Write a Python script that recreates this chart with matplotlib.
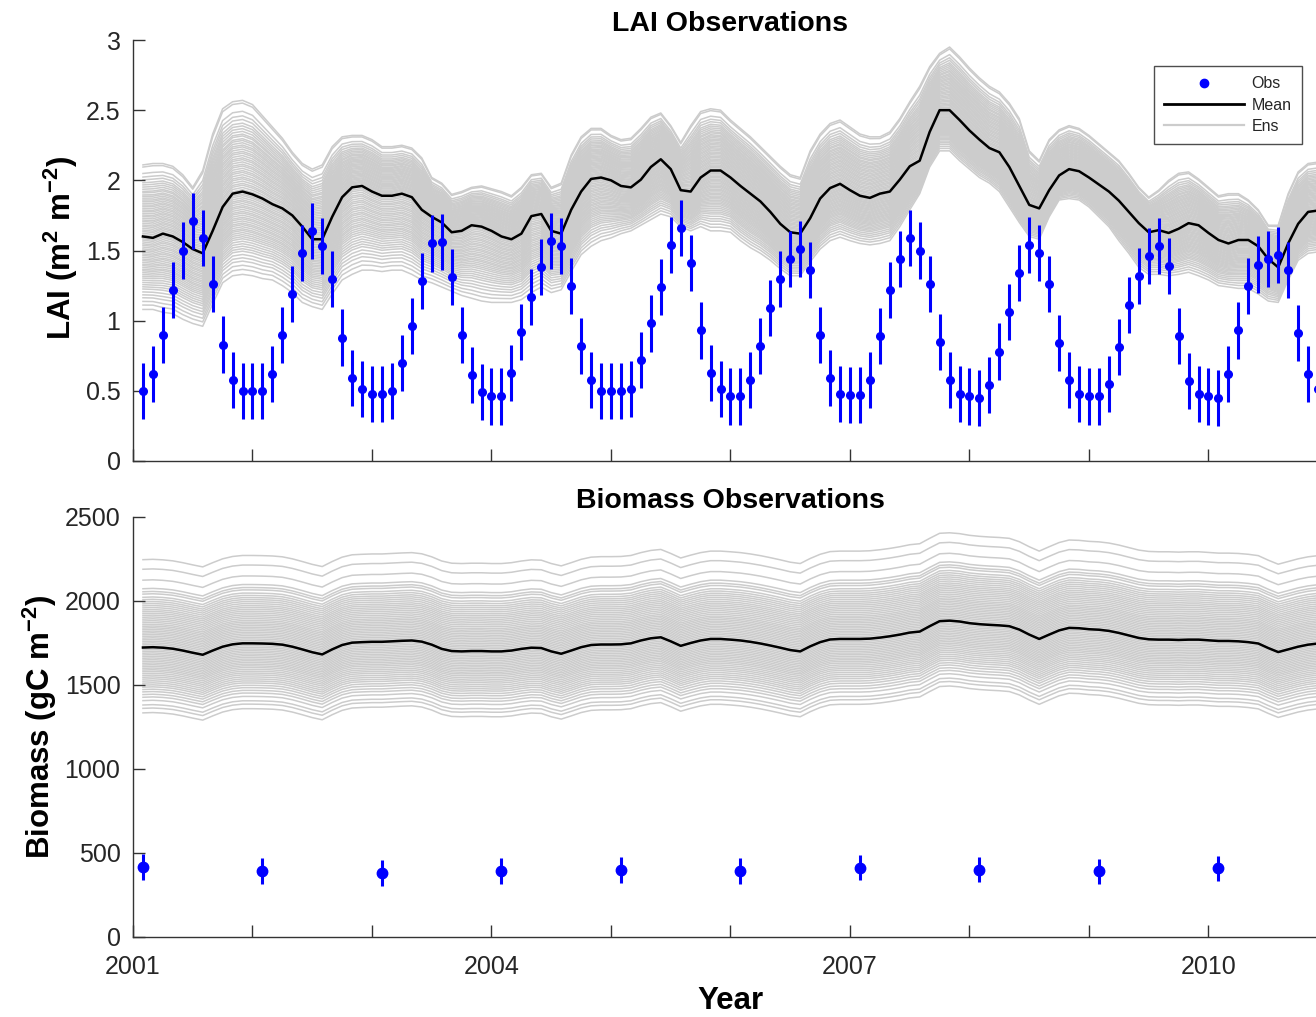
import numpy as np
import matplotlib
matplotlib.use("Agg")
import matplotlib.pyplot as plt
from matplotlib.lines import Line2D

plt.rcParams["font.family"] = ["Liberation Sans", "DejaVu Sans"]
plt.rcParams["mathtext.fontset"] = "custom"
plt.rcParams["mathtext.rm"] = "Liberation Sans:bold"
plt.rcParams["mathtext.default"] = "rm"

# ---------------------------------------------------------------- data
# monthly model/obs time steps: end of each month, Jan 2001 .. Dec 2010
month_index = np.arange(1, 121)
t_month = 2001 + month_index / 12.0

lai_obs = [
    0.50, 0.62, 0.90, 1.22, 1.50, 1.71, 1.59, 1.26, 0.83, 0.58, 0.50, 0.50,
    0.50, 0.62, 0.90, 1.19, 1.48, 1.64, 1.53, 1.30, 0.88, 0.59, 0.51, 0.48,
    0.48, 0.50, 0.70, 0.96, 1.28, 1.55, 1.56, 1.31, 0.90, 0.61, 0.49, 0.46,
    0.46, 0.63, 0.92, 1.17, 1.38, 1.57, 1.53, 1.25, 0.82, 0.58, 0.50, 0.50,
    0.50, 0.51, 0.72, 0.98, 1.24, 1.54, 1.66, 1.41, 0.93, 0.63, 0.51, 0.46,
    0.46, 0.58, 0.82, 1.09, 1.30, 1.44, 1.51, 1.36, 0.90, 0.59, 0.48, 0.47,
    0.47, 0.58, 0.89, 1.22, 1.44, 1.59, 1.50, 1.26, 0.85, 0.58, 0.48, 0.46,
    0.45, 0.54, 0.78, 1.06, 1.34, 1.54, 1.48, 1.26, 0.84, 0.58, 0.48, 0.46,
    0.46, 0.55, 0.81, 1.11, 1.32, 1.46, 1.53, 1.39, 0.89, 0.57, 0.48, 0.46,
    0.45, 0.62, 0.93, 1.25, 1.40, 1.44, 1.47, 1.36, 0.91, 0.62, 0.51, 0.48,
]
lai_obs_err = 0.2

lai_mean = [
    1.60, 1.59, 1.62, 1.60, 1.56, 1.51, 1.48, 1.64, 1.81, 1.905, 1.92, 1.90,
    1.87, 1.83, 1.80, 1.75, 1.67, 1.58, 1.58, 1.74, 1.88, 1.95, 1.96, 1.92,
    1.89, 1.89, 1.905, 1.88, 1.79, 1.74, 1.70, 1.63, 1.64, 1.68, 1.67, 1.64,
    1.60, 1.58, 1.62, 1.745, 1.76, 1.64, 1.62, 1.79, 1.92, 2.01, 2.02, 2.00,
    1.96, 1.95, 2.005, 2.095, 2.15, 2.08, 1.93, 1.92, 2.02, 2.07, 2.07, 2.02,
    1.96, 1.905, 1.85, 1.775, 1.69, 1.63, 1.62, 1.73, 1.87, 1.945, 1.975, 1.93,
    1.89, 1.875, 1.905, 1.92, 2.005, 2.10, 2.14, 2.345, 2.50, 2.50, 2.43, 2.355,
    2.29, 2.23, 2.20, 2.095, 1.96, 1.825, 1.80, 1.93, 2.035, 2.08, 2.065, 2.02,
    1.97, 1.92, 1.855, 1.775, 1.695, 1.63, 1.645, 1.625, 1.655, 1.695, 1.68, 1.625,
    1.575, 1.55, 1.575, 1.575, 1.53, 1.44, 1.38, 1.55, 1.69, 1.775, 1.785, 1.79,
]

# highest and lowest ensemble member at each month
lai_ens_upper = [
    2.11, 2.12, 2.12, 2.10, 2.04, 1.95, 2.07, 2.33, 2.51, 2.56, 2.57, 2.54,
    2.46, 2.38, 2.30, 2.20, 2.12, 2.08, 2.11, 2.24, 2.31, 2.32, 2.32, 2.29,
    2.24, 2.24, 2.25, 2.23, 2.16, 2.02, 1.98, 1.90, 1.92, 1.95, 1.96, 1.94,
    1.92, 1.89, 1.95, 2.04, 2.05, 1.95, 1.98, 2.18, 2.31, 2.37, 2.37, 2.32,
    2.29, 2.30, 2.37, 2.45, 2.48, 2.39, 2.27, 2.39, 2.49, 2.51, 2.50, 2.43,
    2.37, 2.31, 2.24, 2.17, 2.10, 2.04, 2.02, 2.21, 2.33, 2.405, 2.43, 2.38,
    2.33, 2.31, 2.31, 2.345, 2.44, 2.56, 2.67, 2.81, 2.905, 2.95, 2.88, 2.80,
    2.73, 2.67, 2.63, 2.55, 2.44, 2.21, 2.14, 2.29, 2.36, 2.39, 2.37, 2.32,
    2.26, 2.20, 2.14, 2.05, 1.95, 1.88, 1.93, 2.00, 2.05, 2.06, 2.01, 1.95,
    1.89, 1.905, 1.905, 1.86, 1.79, 1.68, 1.68, 1.905, 2.06, 2.12, 2.13, 2.13,
]
lai_ens_lower = [
    1.08, 1.08, 1.06, 1.05, 1.01, 0.98, 0.96, 1.12, 1.27, 1.32, 1.33, 1.32,
    1.30, 1.29, 1.25, 1.20, 1.13, 1.10, 1.08, 1.19, 1.29, 1.33, 1.36, 1.36,
    1.35, 1.36, 1.36, 1.33, 1.29, 1.27, 1.24, 1.21, 1.18, 1.16, 1.14, 1.13,
    1.13, 1.13, 1.15, 1.20, 1.24, 1.20, 1.22, 1.35, 1.47, 1.53, 1.57, 1.59,
    1.62, 1.64, 1.68, 1.72, 1.76, 1.74, 1.67, 1.64, 1.67, 1.64, 1.64, 1.63,
    1.57, 1.52, 1.48, 1.43, 1.37, 1.32, 1.32, 1.42, 1.51, 1.57, 1.595, 1.57,
    1.55, 1.54, 1.55, 1.57, 1.67, 1.79, 1.905, 2.095, 2.21, 2.21, 2.14, 2.08,
    2.02, 1.98, 1.92, 1.81, 1.70, 1.60, 1.58, 1.74, 1.86, 1.87, 1.86, 1.81,
    1.74, 1.67, 1.57, 1.48, 1.38, 1.33, 1.33, 1.32, 1.33, 1.345, 1.32, 1.29,
    1.25, 1.24, 1.23, 1.23, 1.19, 1.14, 1.13, 1.29, 1.43, 1.48, 1.49, 1.49,
]

# relative position of each ensemble member inside the spread
# (+1 = highest member, 0 = ensemble mean, -1 = lowest member)
lai_member_pos = [
    1.0, 0.97, 0.88, 0.83, 0.79, 0.75, 0.72, 0.69, 0.66, 0.63, 0.61, 0.58,
    0.56, 0.535, 0.51, 0.49, 0.465, 0.44, 0.42, 0.395, 0.37, 0.35, 0.325,
    0.30, 0.28, 0.255, 0.23, 0.21, 0.185, 0.16, 0.14, 0.115, 0.09, 0.07,
    0.045, 0.02, -0.005, -0.03, -0.05, -0.075, -0.10, -0.12, -0.145, -0.17,
    -0.19, -0.215, -0.24, -0.26, -0.285, -0.31, -0.33, -0.355, -0.38, -0.40,
    -0.425, -0.45, -0.47, -0.495, -0.52, -0.545, -0.57, -0.60, -0.63, -0.66,
    -0.69, -0.72, -0.76, -0.80, -0.84, -0.89, -0.94, -1.0,
]

biomass_mean = [
    1723, 1725, 1722, 1716, 1705, 1692, 1680, 1705, 1728, 1742, 1748, 1748,
    1747, 1745, 1740, 1728, 1712, 1695, 1682, 1712, 1738, 1752, 1755, 1757,
    1757, 1760, 1763, 1765, 1758, 1740, 1715, 1702, 1700, 1702, 1702, 1700,
    1700, 1705, 1715, 1722, 1720, 1700, 1686, 1705, 1725, 1738, 1741, 1741,
    1742, 1748, 1765, 1778, 1784, 1760, 1733, 1750, 1765, 1774, 1774, 1770,
    1765, 1757, 1747, 1735, 1722, 1708, 1700, 1730, 1755, 1771, 1774, 1774,
    1774, 1776, 1782, 1790, 1800, 1812, 1818, 1850, 1880, 1883, 1878, 1868,
    1862, 1858, 1855, 1850, 1830, 1800, 1774, 1800, 1825, 1840, 1838, 1832,
    1829, 1822, 1810, 1795, 1780, 1772, 1770, 1770, 1768, 1770, 1770, 1766,
    1762, 1762, 1760, 1755, 1747, 1720, 1696, 1712, 1728, 1740, 1747, 1750,
]

# offset of each ensemble member from the ensemble mean (gC m-2)
biomass_member_offset = [
    523, 466, 401, 350, 332, 318, 299, 285, 272, 260, 248, 236, 224, 213,
    202, 191, 180, 169, 158, 147, 136, 126, 116, 106, 96, 86, 76, 66, 56,
    46, 36, 26, 16, 6, -4, -14, -24, -34, -44, -54, -64, -74, -84, -94,
    -104, -114, -124, -134, -144, -155, -166, -177, -188, -200, -212, -224,
    -236, -250, -264, -280, -296, -316, -342, -362, -389,
]

# annual biomass observations (end of January each year)
biomass_obs_year = 2001 + np.arange(10) + 1 / 12.0
biomass_obs = [417, 393, 381, 393, 399, 393, 413, 401, 391, 409]
biomass_obs_err = 75

year_ticks = list(range(2001, 2012))
year_labels = ["2001", "", "", "2004", "", "", "2007", "", "", "2010", ""]
lai_ticks = [0, 0.5, 1, 1.5, 2, 2.5, 3]
lai_tick_labels = ["0", "0.5", "1", "1.5", "2", "2.5", "3"]
biomass_ticks = [0, 500, 1000, 1500, 2000, 2500]

# ---------------------------------------------------------------- style
AX_COLOR = "#333333"
ENS_COLOR = "#cccccc"
OBS_COLOR = "#0000ff"

W, H = 1316, 1017
fig = plt.figure(figsize=(W / 100, H / 100), dpi=100)
ax1 = fig.add_axes([133 / W, 556 / H, 1195 / W, 421 / H])
ax2 = fig.add_axes([133 / W, 80 / H, 1195 / W, 420 / H])


def style_axes(ax):
    for side in ("top", "right"):
        ax.spines[side].set_visible(False)
    for side in ("left", "bottom"):
        ax.spines[side].set_color(AX_COLOR)
        ax.spines[side].set_linewidth(1.0)
    ax.tick_params(direction="in", length=8.5, width=1.0, color=AX_COLOR,
                   labelcolor="#262626", labelsize=18)
    ax.tick_params(axis="y", pad=9)
    ax.tick_params(axis="x", pad=13)
    ax.set_xlim(2001, 2011)
    ax.set_xticks(year_ticks)


# ---------------------------------------------------------------- LAI panel
mean_arr = np.array(lai_mean)
up_arr = np.array(lai_ens_upper)
lo_arr = np.array(lai_ens_lower)
for p in lai_member_pos:
    if p >= 0:
        member = mean_arr + p * (up_arr - mean_arr)
    else:
        member = mean_arr + p * (mean_arr - lo_arr)
    ax1.plot(t_month, member, color=ENS_COLOR, lw=1.1, zorder=1)
ax1.plot(t_month, lai_mean, color="black", lw=1.8, zorder=2)
ax1.errorbar(t_month, lai_obs, yerr=lai_obs_err, fmt="o", color=OBS_COLOR,
             ms=5.5, elinewidth=2.2, capsize=0, zorder=3)

style_axes(ax1)
ax1.set_xticklabels([])
ax1.set_ylim(0, 3)
ax1.set_yticks(lai_ticks)
ax1.set_yticklabels(lai_tick_labels)
ax1.set_title("LAI Observations", fontsize=20.5, fontweight="bold", pad=6.5)
ax1.set_ylabel(r"LAI (m$^{2}$ m$^{-2}$)", fontsize=22.5, fontweight="bold")
ax1.yaxis.set_label_coords(-0.044, 0.507)

handles = [
    Line2D([], [], ls="none", marker="o", color=OBS_COLOR, ms=6),
    Line2D([], [], color="black", lw=2.0),
    Line2D([], [], color=ENS_COLOR, lw=1.6),
]
leg = ax1.legend(handles, ["Obs", "Mean", "Ens"], loc="upper right",
                 bbox_to_anchor=(0.978, 0.938), fontsize=11.5,
                 frameon=True, fancybox=False, shadow=False,
                 handlelength=5.0, handletextpad=0.45, labelspacing=0.38,
                 borderpad=0.65, borderaxespad=0.0)
leg.get_frame().set_edgecolor("#222222")
leg.get_frame().set_linewidth(1.0)
for txt in leg.get_texts():
    txt.set_color("#262626")

# ---------------------------------------------------------------- biomass panel
bmean = np.array(biomass_mean)
for off in biomass_member_offset:
    ax2.plot(t_month, bmean + off, color=ENS_COLOR, lw=1.1, zorder=1)
ax2.plot(t_month, biomass_mean, color="black", lw=1.8, zorder=2)
ax2.errorbar(biomass_obs_year, biomass_obs, yerr=biomass_obs_err, fmt="o",
             color=OBS_COLOR, ms=7.5, elinewidth=2.2, capsize=0, zorder=3)

style_axes(ax2)
ax2.set_xticklabels(year_labels)
ax2.set_ylim(0, 2500)
ax2.set_yticks(biomass_ticks)
ax2.set_title("Biomass Observations", fontsize=20.5, fontweight="bold", pad=6.5)
ax2.set_ylabel(r"Biomass (gC m$^{-2}$)", fontsize=22.5, fontweight="bold")
ax2.yaxis.set_label_coords(-0.062, 0.5)
ax2.set_xlabel("Year", fontsize=22.5, fontweight="bold", labelpad=5)

fig.savefig("out.png", dpi=100)
